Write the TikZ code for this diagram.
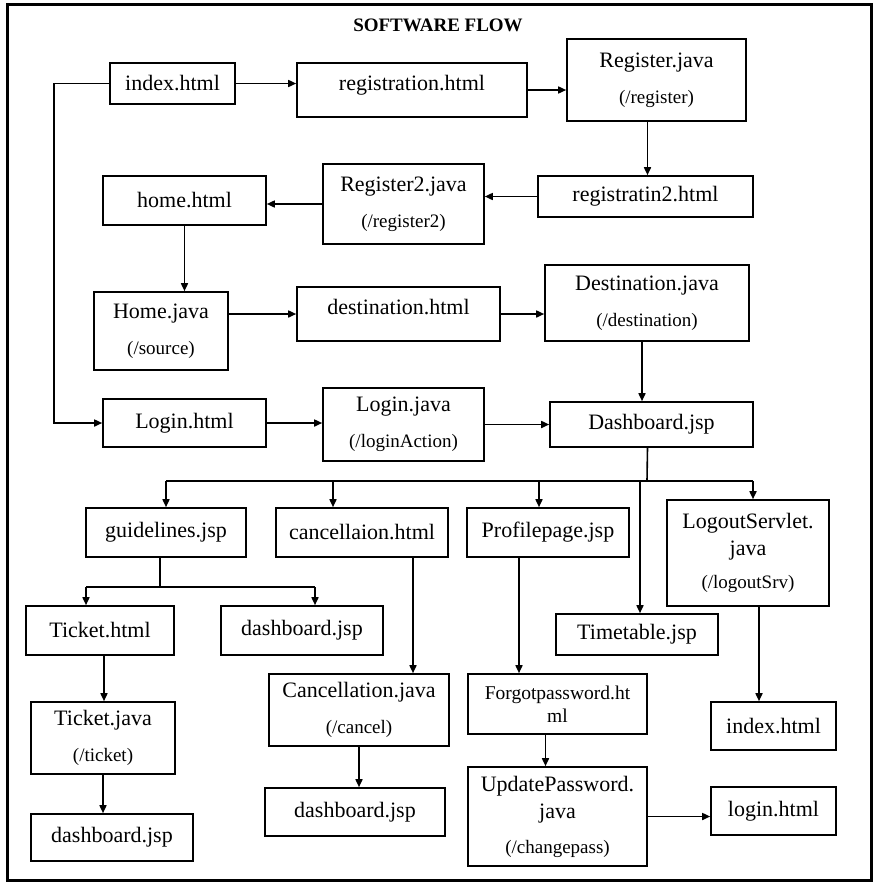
\documentclass[tikz,border=0pt]{standalone}
\usepackage{fontspec}
\setmainfont{Liberation Serif}
\usetikzlibrary{arrows.meta}
\newcommand{\subtxt}[1]{{\fontsize{19}{23}\selectfont #1}}
\tikzset{
  box/.style={draw, line width=1.6pt, inner sep=0pt, align=center,
    font=\fontsize{22}{27}\selectfont},
  toptext/.style={text depth=14pt},
  arr/.style={line width=1.6pt, -{Triangle[length=8pt,width=7pt]}},
  wire/.style={line width=1.6pt}
}
\begin{document}
\begin{tikzpicture}[x=1pt, y=-1pt]
    \useasboundingbox (0,0) rectangle (875,884);
    % Frame and title
    \draw[line width=3pt] (7,4) rectangle (871,880);
    \node[font=\bfseries\fontsize{19}{23}\selectfont] (title) at (438,25) {SOFTWARE FLOW};

    % Registration row
    \node[box, minimum width=125, minimum height=41] (idx) at (172.5,83.5) {index.html};
    \node[box, toptext, minimum width=230, minimum height=54] (reg) at (412,90) {registration.html};
    \node[box, minimum width=179, minimum height=82] (Reg) at (656.5,80) {Register.java\\[9pt]\subtxt{(/register)}};
    \node[box, minimum width=215, minimum height=41] (reg2) at (645.5,196.5) {registratin2.html};
    \node[box, minimum width=161, minimum height=80] (Reg2) at (403.5,204) {Register2.java\\[9pt]\subtxt{(/register2)}};
    \node[box, minimum width=163, minimum height=49] (home) at (184.5,200.5) {home.html};

    % Source and destination
    \node[box, minimum width=134, minimum height=78] (Home) at (161,331) {Home.java\\[9pt]\subtxt{(/source)}};
    \node[box, toptext, minimum width=203, minimum height=54] (dest) at (398.5,314) {destination.html};
    \node[box, minimum width=204, minimum height=76] (Dest) at (647,303) {Destination.java\\[9pt]\subtxt{(/destination)}};

    % Login row
    \node[box, minimum width=163, minimum height=48] (login) at (184.5,423) {Login.html};
    \node[box, minimum width=161, minimum height=73] (Login) at (403.5,424.5) {Login.java\\[9pt]\subtxt{(/loginAction)}};
    \node[box, minimum width=203, minimum height=45] (dash) at (651.5,424.5) {Dashboard.jsp};

    % Dashboard branches
    \node[box, minimum width=160, minimum height=49] (guide) at (166,532.5) {guidelines.jsp};
    \node[box, minimum width=172, minimum height=49] (cancel) at (362,532.5) {cancellaion.html};
    \node[box, minimum width=162, minimum height=49] (prof) at (548,532.5) {Profilepage.jsp};
    \node[box, minimum width=162, minimum height=106] (logout) at (748,553) {LogoutServlet.\\java\\[6pt]\subtxt{(/logoutSrv)}};
    \node[box, minimum width=162, minimum height=41] (time) at (637,634.5) {Timetable.jsp};

    % Lower boxes
    \node[box, minimum width=148, minimum height=49] (tkt) at (100,630.5) {Ticket.html};
    \node[box, minimum width=162, minimum height=49] (dashA) at (302,630.5) {dashboard.jsp};
    \node[box, minimum width=144, minimum height=72] (Tkt) at (103,738) {Ticket.java\\[9pt]\subtxt{(/ticket)}};
    \node[box, minimum width=162, minimum height=47] (dashB) at (112,837.5) {dashboard.jsp};
    \node[box, minimum width=180, minimum height=72] (Cancel) at (359,710) {Cancellation.java\\[9pt]\subtxt{(/cancel)}};
    \node[box, minimum width=180, minimum height=48] (dashC) at (355,812) {dashboard.jsp};
    \node[box, minimum width=179, minimum height=60, font=\fontsize{19.5}{23}\selectfont] (forgot) at (557.5,704) {Forgotpassword.ht\\ml};
    \node[box, minimum width=179, minimum height=99] (upd) at (557.5,816.5) {UpdatePassword.\\java\\[8pt]\subtxt{(/changepass)}};
    \node[box, minimum width=125, minimum height=48] (idxB) at (773.5,726) {index.html};
    \node[box, minimum width=125, minimum height=48] (loginB) at (773.5,811) {login.html};

    % Upper connectors
    \draw[arr] (idx.east) -- (idx.east -| reg.west);
    \draw[arr] (reg.east) -- (reg.east -| Reg.west);
    \draw[arr] ([xshift=-9pt]Reg.south) -- ([xshift=-9pt]Reg.south |- reg2.north);
    \draw[arr] (reg2.west) -- (reg2.west -| Reg2.east);
    \draw[arr] (Reg2.west) -- (Reg2.west -| home.east);
    \draw[arr] (home.south) -- (home.south |- Home.north);
    \draw[arr] (Home.east |- dest.west) -- (dest.west);
    \draw[arr] (dest.east) -- (dest.east -| Dest.west);
    \draw[arr] ([xshift=-5pt]Dest.south) -- ([xshift=-5pt]Dest.south |- dash.north);
    \draw[arr] (idx.west) -- ++(-55,0) |- (login.west);
    \draw[arr] (login.east) -- (login.east -| Login.west);
    \draw[arr] (Login.east) -- (Login.east -| dash.west);

    % Dashboard bus
    \coordinate (bus) at (647,481);
    \draw[wire] ([xshift=-4pt]dash.south) -- (bus);
    \draw[wire] (guide.north |- bus) -- ([xshift=5pt]logout.north |- bus);
    \draw[arr] (guide.north |- bus) -- (guide.north);
    \draw[arr] ([xshift=-29pt]cancel.north |- bus) -- ([xshift=-29pt]cancel.north);
    \draw[arr] ([xshift=-9pt]prof.north |- bus) -- ([xshift=-9pt]prof.north);
    \draw[arr] ([xshift=5pt]logout.north |- bus) -- ([xshift=5pt]logout.north);
    \draw[arr] ([xshift=3pt]time.north |- bus) -- ([xshift=3pt]time.north);

    % Guidelines split
    \coordinate (split) at (160,587);
    \draw[wire] ([xshift=-6pt]guide.south) -- (split);
    \draw[wire] ([xshift=-14pt]tkt.north |- split) -- ([xshift=13pt]dashA.north |- split);
    \draw[arr] ([xshift=-14pt]tkt.north |- split) -- ([xshift=-14pt]tkt.north);
    \draw[arr] ([xshift=13pt]dashA.north |- split) -- ([xshift=13pt]dashA.north);

    % Lower connectors
    \draw[arr] ([xshift=4pt]tkt.south) -- ([xshift=4pt]tkt.south |- Tkt.north);
    \draw[arr] (Tkt.south) -- (Tkt.south |- dashB.north);
    \draw[arr] ([xshift=51pt]cancel.south) -- ([xshift=51pt]cancel.south |- Cancel.north);
    \draw[arr] (Cancel.south) -- (Cancel.south |- dashC.north);
    \draw[arr] ([xshift=-29pt]prof.south) -- ([xshift=-29pt]prof.south |- forgot.north);
    \draw[arr] ([xshift=-12pt]forgot.south) -- ([xshift=-12pt]forgot.south |- upd.north);
    \draw[arr] ([xshift=11pt]logout.south) -- ([xshift=11pt]logout.south |- idxB.north);
    \draw[arr] (upd.east) -- (upd.east -| loginB.west);
\end{tikzpicture}
\end{document}
